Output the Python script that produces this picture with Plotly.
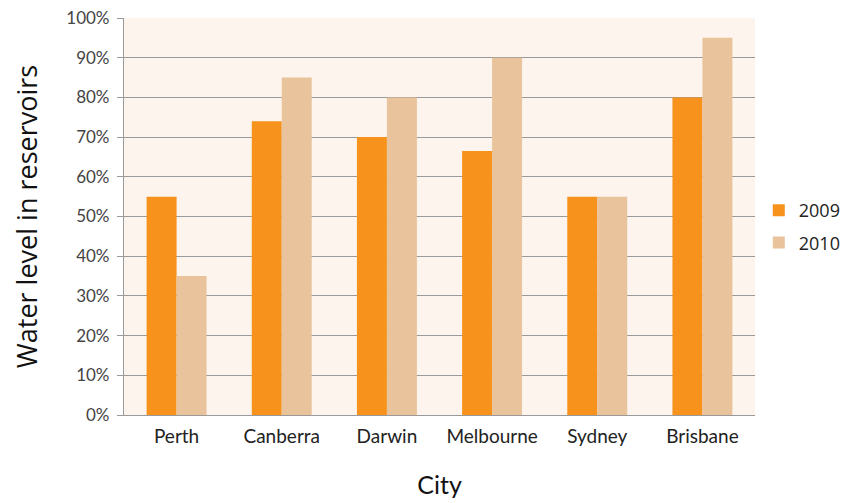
import plotly.graph_objects as go

cities = ["Perth", "Canberra", "Darwin", "Melbourne", "Sydney", "Brisbane"]
values_2009 = [55, 74, 70, 66.5, 55, 80]
values_2010 = [35, 85, 80, 90, 55, 95]
y_ticks = [0, 10, 20, 30, 40, 50, 60, 70, 80, 90, 100]
y_tick_labels = [f"{v}%" for v in y_ticks]

fig = go.Figure()
fig.add_trace(go.Bar(name="2009", x=cities, y=values_2009, legendgroup="a",
                     marker=dict(color="#f7921d", line=dict(width=0))))
fig.add_trace(go.Bar(name="2010", x=cities, y=values_2010, legendgroup="b",
                     marker=dict(color="#e8c39b", line=dict(width=0))))

fig.update_layout(
    width=849, height=503,
    margin=dict(l=116, r=102, t=10, b=96, autoexpand=False),
    paper_bgcolor="white",
    plot_bgcolor="#fcf4ed",
    barmode="group",
    bargap=0.43,
    bargroupgap=0.0,
    font=dict(family="Lato", color="#333333"),
    legend=dict(x=1.006, y=0.475, xanchor="left", yanchor="middle",
                font=dict(family="Open Sans", size=18, color="#222222"),
                itemwidth=30, tracegroupgap=6, bgcolor="rgba(0,0,0,0)"),
    showlegend=True,
)
fig.update_yaxes(
    range=[0, 100], tickvals=y_ticks, ticktext=y_tick_labels,
    showgrid=True, gridcolor="#9a9a9a", gridwidth=1.2,
    ticks="outside", ticklen=6, tickcolor="#9a9a9a",
    showline=True, linecolor="#9a9a9a", linewidth=1.2,
    tickfont=dict(family="Lato", size=17, color="#444444"),
    ticklabeloverflow="allow", ticklabelstandoff=4,
    title=dict(text="Water level in reservoirs", font=dict(family="Open Sans", size=27, color="#111111"), standoff=34),
    zeroline=False,
)
fig.update_xaxes(
    showline=True, linecolor="#9a9a9a", linewidth=1.2,
    ticks="", tickfont=dict(family="Lato", size=19, color="#222222"),
    ticklabelstandoff=4,
    title=dict(text="City", font=dict(family="Lato", size=25, color="#111111"), standoff=30),
)

fig.write_html("out.html")
